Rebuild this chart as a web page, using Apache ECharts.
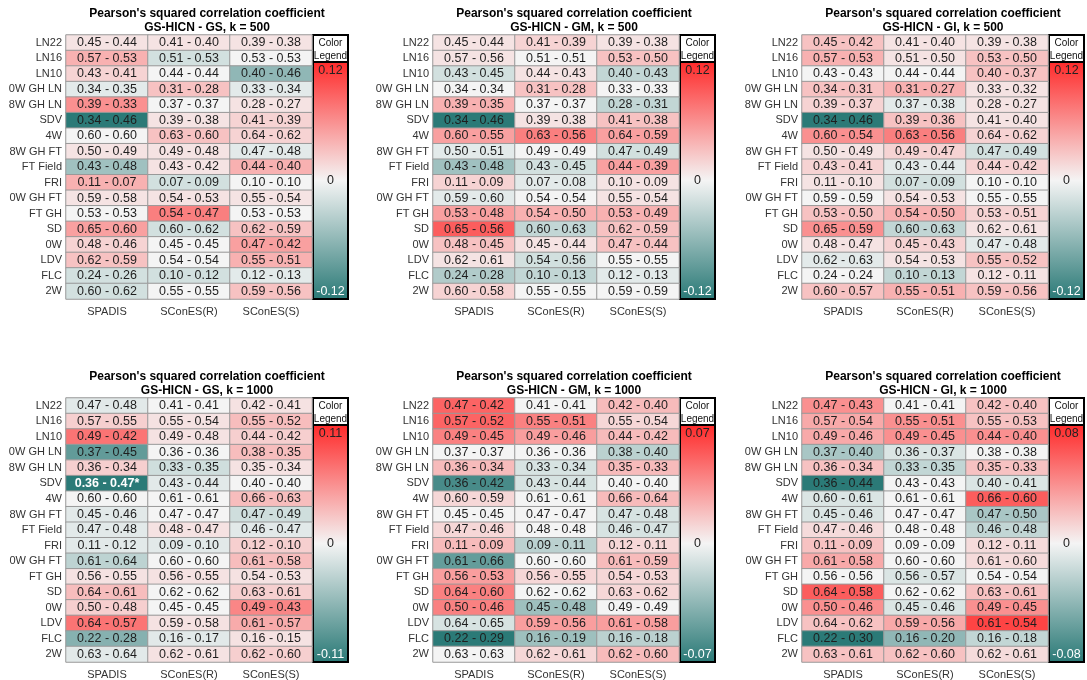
<!DOCTYPE html>
<html>
<head>
<meta charset="utf-8">
<script src="https://cdn.jsdelivr.net/npm/echarts@6/dist/echarts.min.js"></script>
<style>
  html, body { margin: 0; padding: 0; background: #ffffff; }
  #chart { width: 1087px; height: 680px; }
</style>
</head>
<body>
<div id="chart"></div>
<script>
// Phenotype rows (top to bottom) and method columns
const rowNames = ['LN22', 'LN16', 'LN10', '0W GH LN', '8W GH LN', 'SDV', '4W', '8W GH FT',
  'FT Field', 'FRI', '0W GH FT', 'FT GH', 'SD', '0W', 'LDV', 'FLC', '2W'];
const methods = ['SPADIS', 'SConES(R)', 'SConES(S)'];

const panelTitles = [
  'GS-HICN - GS, k = 500', 'GS-HICN - GM, k = 500', 'GS-HICN - GI, k = 500',
  'GS-HICN - GS, k = 1000', 'GS-HICN - GM, k = 1000', 'GS-HICN - GI, k = 1000'
];

// Each row: [a, b] pairs for SPADIS, SConES(R), SConES(S)  (cell shows "a - b", colour = a - b)
const gsK500 = [
  [0.45, 0.44, 0.41, 0.40, 0.39, 0.38],
  [0.57, 0.53, 0.51, 0.53, 0.53, 0.53],
  [0.43, 0.41, 0.44, 0.44, 0.40, 0.46],
  [0.34, 0.35, 0.31, 0.28, 0.33, 0.34],
  [0.39, 0.33, 0.37, 0.37, 0.28, 0.27],
  [0.34, 0.46, 0.39, 0.38, 0.41, 0.39],
  [0.60, 0.60, 0.63, 0.60, 0.64, 0.62],
  [0.50, 0.49, 0.49, 0.48, 0.47, 0.48],
  [0.43, 0.48, 0.43, 0.42, 0.44, 0.40],
  [0.11, 0.07, 0.07, 0.09, 0.10, 0.10],
  [0.59, 0.58, 0.54, 0.53, 0.55, 0.54],
  [0.53, 0.53, 0.54, 0.47, 0.53, 0.53],
  [0.65, 0.60, 0.60, 0.62, 0.62, 0.59],
  [0.48, 0.46, 0.45, 0.45, 0.47, 0.42],
  [0.62, 0.59, 0.54, 0.54, 0.55, 0.51],
  [0.24, 0.26, 0.10, 0.12, 0.12, 0.13],
  [0.60, 0.62, 0.55, 0.55, 0.59, 0.56]
];
const gmK500 = [
  [0.45, 0.44, 0.41, 0.39, 0.39, 0.38],
  [0.57, 0.56, 0.51, 0.51, 0.53, 0.50],
  [0.43, 0.45, 0.44, 0.43, 0.40, 0.43],
  [0.34, 0.34, 0.31, 0.28, 0.33, 0.33],
  [0.39, 0.35, 0.37, 0.37, 0.28, 0.31],
  [0.34, 0.46, 0.39, 0.38, 0.41, 0.38],
  [0.60, 0.55, 0.63, 0.56, 0.64, 0.59],
  [0.50, 0.51, 0.49, 0.49, 0.47, 0.49],
  [0.43, 0.48, 0.43, 0.45, 0.44, 0.39],
  [0.11, 0.09, 0.07, 0.08, 0.10, 0.09],
  [0.59, 0.60, 0.54, 0.54, 0.55, 0.54],
  [0.53, 0.48, 0.54, 0.50, 0.53, 0.49],
  [0.65, 0.56, 0.60, 0.63, 0.62, 0.59],
  [0.48, 0.45, 0.45, 0.44, 0.47, 0.44],
  [0.62, 0.61, 0.54, 0.56, 0.55, 0.55],
  [0.24, 0.28, 0.10, 0.13, 0.12, 0.13],
  [0.60, 0.58, 0.55, 0.55, 0.59, 0.59]
];
const giK500 = [
  [0.45, 0.42, 0.41, 0.40, 0.39, 0.38],
  [0.57, 0.53, 0.51, 0.50, 0.53, 0.50],
  [0.43, 0.43, 0.44, 0.44, 0.40, 0.37],
  [0.34, 0.31, 0.31, 0.27, 0.33, 0.32],
  [0.39, 0.37, 0.37, 0.38, 0.28, 0.27],
  [0.34, 0.46, 0.39, 0.36, 0.41, 0.40],
  [0.60, 0.54, 0.63, 0.56, 0.64, 0.62],
  [0.50, 0.49, 0.49, 0.47, 0.47, 0.49],
  [0.43, 0.41, 0.43, 0.44, 0.44, 0.42],
  [0.11, 0.10, 0.07, 0.09, 0.10, 0.10],
  [0.59, 0.59, 0.54, 0.53, 0.55, 0.55],
  [0.53, 0.50, 0.54, 0.50, 0.53, 0.51],
  [0.65, 0.59, 0.60, 0.63, 0.62, 0.61],
  [0.48, 0.47, 0.45, 0.43, 0.47, 0.48],
  [0.62, 0.63, 0.54, 0.53, 0.55, 0.52],
  [0.24, 0.24, 0.10, 0.13, 0.12, 0.11],
  [0.60, 0.57, 0.55, 0.51, 0.59, 0.56]
];
const gsK1000 = [
  [0.47, 0.48, 0.41, 0.41, 0.42, 0.41],
  [0.57, 0.55, 0.55, 0.54, 0.55, 0.52],
  [0.49, 0.42, 0.49, 0.48, 0.44, 0.42],
  [0.37, 0.45, 0.36, 0.36, 0.38, 0.35],
  [0.36, 0.34, 0.33, 0.35, 0.35, 0.34],
  [0.36, 0.47, 0.43, 0.44, 0.40, 0.40],
  [0.60, 0.60, 0.61, 0.61, 0.66, 0.63],
  [0.45, 0.46, 0.47, 0.47, 0.47, 0.49],
  [0.47, 0.48, 0.48, 0.47, 0.46, 0.47],
  [0.11, 0.12, 0.09, 0.10, 0.12, 0.10],
  [0.61, 0.64, 0.60, 0.60, 0.61, 0.58],
  [0.56, 0.55, 0.56, 0.55, 0.54, 0.53],
  [0.64, 0.61, 0.62, 0.62, 0.63, 0.61],
  [0.50, 0.48, 0.45, 0.45, 0.49, 0.43],
  [0.64, 0.57, 0.59, 0.58, 0.61, 0.57],
  [0.22, 0.28, 0.16, 0.17, 0.16, 0.15],
  [0.63, 0.64, 0.62, 0.61, 0.62, 0.60]
];
const gmK1000 = [
  [0.47, 0.42, 0.41, 0.41, 0.42, 0.40],
  [0.57, 0.52, 0.55, 0.51, 0.55, 0.54],
  [0.49, 0.45, 0.49, 0.46, 0.44, 0.42],
  [0.37, 0.37, 0.36, 0.36, 0.38, 0.40],
  [0.36, 0.34, 0.33, 0.34, 0.35, 0.33],
  [0.36, 0.42, 0.43, 0.44, 0.40, 0.40],
  [0.60, 0.59, 0.61, 0.61, 0.66, 0.64],
  [0.45, 0.45, 0.47, 0.47, 0.47, 0.48],
  [0.47, 0.46, 0.48, 0.48, 0.46, 0.47],
  [0.11, 0.09, 0.09, 0.11, 0.12, 0.11],
  [0.61, 0.66, 0.60, 0.60, 0.61, 0.59],
  [0.56, 0.53, 0.56, 0.55, 0.54, 0.53],
  [0.64, 0.60, 0.62, 0.62, 0.63, 0.62],
  [0.50, 0.46, 0.45, 0.48, 0.49, 0.49],
  [0.64, 0.65, 0.59, 0.56, 0.61, 0.58],
  [0.22, 0.29, 0.16, 0.19, 0.16, 0.18],
  [0.63, 0.63, 0.62, 0.61, 0.62, 0.60]
];
const giK1000 = [
  [0.47, 0.43, 0.41, 0.41, 0.42, 0.40],
  [0.57, 0.54, 0.55, 0.51, 0.55, 0.53],
  [0.49, 0.46, 0.49, 0.45, 0.44, 0.40],
  [0.37, 0.40, 0.36, 0.37, 0.38, 0.38],
  [0.36, 0.34, 0.33, 0.35, 0.35, 0.33],
  [0.36, 0.44, 0.43, 0.43, 0.40, 0.41],
  [0.60, 0.61, 0.61, 0.61, 0.66, 0.60],
  [0.45, 0.46, 0.47, 0.47, 0.47, 0.50],
  [0.47, 0.46, 0.48, 0.48, 0.46, 0.48],
  [0.11, 0.09, 0.09, 0.09, 0.12, 0.11],
  [0.61, 0.58, 0.60, 0.60, 0.61, 0.60],
  [0.56, 0.56, 0.56, 0.57, 0.54, 0.54],
  [0.64, 0.58, 0.62, 0.62, 0.63, 0.61],
  [0.50, 0.46, 0.45, 0.46, 0.49, 0.45],
  [0.64, 0.62, 0.59, 0.56, 0.61, 0.54],
  [0.22, 0.30, 0.16, 0.20, 0.16, 0.18],
  [0.63, 0.61, 0.62, 0.60, 0.62, 0.61]
];
const panels = [gsK500, gmK500, giK500, gsK1000, gmK1000, giK1000];

// Cells flagged as significant: [row, column] per panel
const starredCells = [[], [], [], [[5, 0]], [], []];

// Diverging palette: negative -> neutral -> positive
const palette = ['#2b7a77', '#f4f4f4', '#ff2b2b'];

const FONT = '"Liberation Sans", Arial, Helvetica, sans-serif';
const colLefts = [66, 433, 802];
const rowTops = [35, 398];
const GRID_W = 246, GRID_H = 264, LEG_W = 35, LEG_HEAD = 27;

const fmt = v => v.toFixed(2);

const option = {
  backgroundColor: '#ffffff',
  animation: false,
  title: [], grid: [], xAxis: [], yAxis: [], series: [], visualMap: [], graphic: []
};

panels.forEach((rows, p) => {
  const left = colLefts[p % 3];
  const top = rowTops[Math.floor(p / 3)];
  const stars = starredCells[p];

  const data = [];
  let maxAbs = 0;
  rows.forEach((r, ri) => {
    for (let c = 0; c < 3; c++) {
      const a = r[2 * c], b = r[2 * c + 1];
      const d = Math.round((a - b) * 100) / 100;
      maxAbs = Math.max(maxAbs, Math.abs(d));
      const star = stars.some(s => s[0] === ri && s[1] === c);
      const item = { value: [c, ri, d], text: fmt(a) + ' - ' + fmt(b) + (star ? '*' : '') };
      if (star) item.label = { color: '#ffffff', fontWeight: 'bold' };
      data.push(item);
    }
  });
  maxAbs = Math.round(maxAbs * 100) / 100;

  option.title.push({
    text: "Pearson's squared correlation coefficient\n" + panelTitles[p],
    left: left + (GRID_W + 1 + LEG_W) / 2,
    top: top - 29,
    textAlign: 'center',
    padding: 0,
    textStyle: { fontFamily: FONT, fontSize: 12, fontWeight: 'bold', color: '#000', lineHeight: 14.5 }
  });
  option.grid.push({ left: left, top: top, width: GRID_W, height: GRID_H, outerBoundsMode: 'none' });
  option.xAxis.push({
    type: 'category', gridIndex: p, data: methods, position: 'bottom',
    axisLine: { show: false }, axisTick: { show: false }, splitLine: { show: false },
    axisLabel: { fontFamily: FONT, fontSize: 11, color: '#333', margin: 7 }
  });
  option.yAxis.push({
    type: 'category', gridIndex: p, data: rowNames, inverse: true,
    axisLine: { show: false }, axisTick: { show: false }, splitLine: { show: false },
    axisLabel: { fontFamily: FONT, fontSize: 11, color: '#333', margin: 4 }
  });
  option.visualMap.push({
    type: 'continuous', show: false, seriesIndex: p, dimension: 2,
    min: -maxAbs, max: maxAbs, inRange: { color: palette }
  });
  option.series.push({
    type: 'heatmap', xAxisIndex: p, yAxisIndex: p, data: data,
    itemStyle: { borderColor: '#999999', borderWidth: 1 },
    label: {
      show: true, fontFamily: FONT, fontSize: 12.5, color: '#1e1e1e',
      formatter: prm => prm.data.text
    },
    emphasis: { disabled: true }
  });

  // Colour legend box beside each grid
  const lx = left + GRID_W + 1;
  const barH = GRID_H - LEG_HEAD;
  option.graphic.push({
    type: 'group', x: lx, y: top, silent: true,
    children: [
      { type: 'rect', shape: { x: 0, y: 0, width: LEG_W, height: LEG_HEAD }, style: { fill: '#ffffff' } },
      { type: 'rect', shape: { x: 0, y: LEG_HEAD, width: LEG_W, height: barH },
        style: { fill: new echarts.graphic.LinearGradient(0, 0, 0, 1, [
          { offset: 0, color: palette[2] }, { offset: 0.5, color: palette[1] }, { offset: 1, color: palette[0] }
        ]) } },
      { type: 'line', shape: { x1: 0, y1: LEG_HEAD, x2: LEG_W, y2: LEG_HEAD }, style: { stroke: '#000', lineWidth: 2 } },
      { type: 'rect', shape: { x: 0, y: 0, width: LEG_W, height: GRID_H }, style: { fill: null, stroke: '#000', lineWidth: 2 } },
      { type: 'text', x: LEG_W / 2, y: 8, style: { text: 'Color', fontFamily: FONT, fontSize: 10, fill: '#111', align: 'center', verticalAlign: 'middle' } },
      { type: 'text', x: LEG_W / 2, y: 21, style: { text: 'Legend', fontFamily: FONT, fontSize: 10, fill: '#111', align: 'center', verticalAlign: 'middle' } },
      { type: 'text', x: LEG_W / 2, y: LEG_HEAD + 9, style: { text: fmt(maxAbs), fontFamily: FONT, fontSize: 12.5, fill: '#222', align: 'center', verticalAlign: 'middle' } },
      { type: 'text', x: LEG_W / 2, y: LEG_HEAD + barH / 2, style: { text: '0', fontFamily: FONT, fontSize: 12.5, fill: '#222', align: 'center', verticalAlign: 'middle' } },
      { type: 'text', x: LEG_W / 2, y: GRID_H - 7, style: { text: fmt(-maxAbs), fontFamily: FONT, fontSize: 12.5, fill: '#ffffff', align: 'center', verticalAlign: 'middle' } }
    ]
  });
});

const chart = echarts.init(document.getElementById('chart'), null, { renderer: 'canvas' });
chart.setOption(option);
</script>
</body>
</html>
